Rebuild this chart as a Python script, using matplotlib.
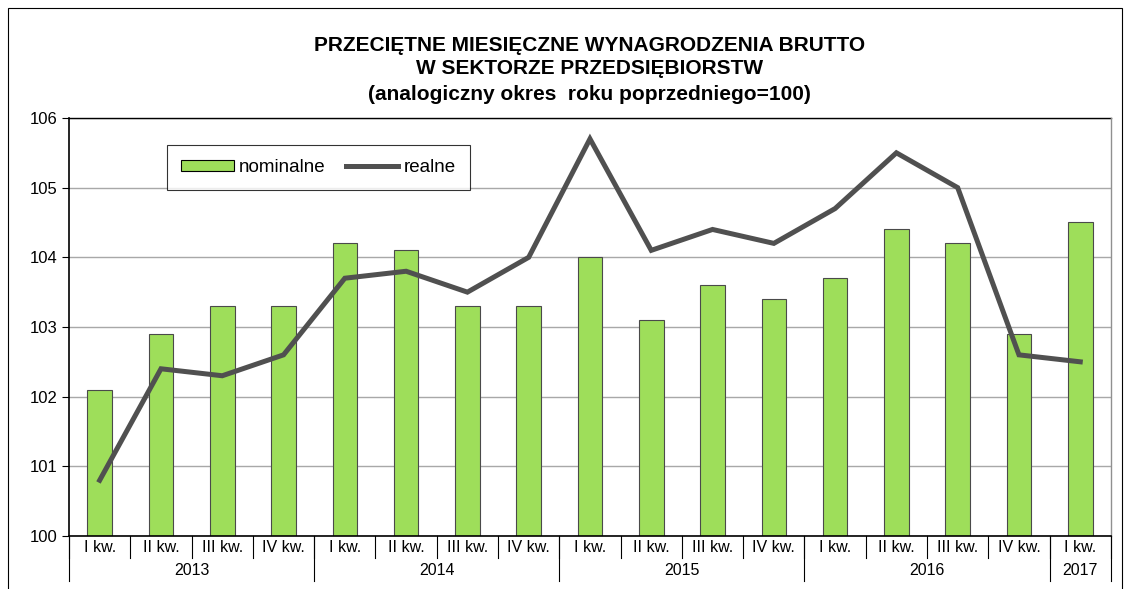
import matplotlib
matplotlib.use("Agg")
import matplotlib.pyplot as plt
import numpy as np
from matplotlib.lines import Line2D
from matplotlib.patches import Patch, Rectangle

plt.rcParams["font.family"] = ["Liberation Sans", "DejaVu Sans"]

QUARTERS = ["I kw.", "II kw.", "III kw.", "IV kw.",
            "I kw.", "II kw.", "III kw.", "IV kw.",
            "I kw.", "II kw.", "III kw.", "IV kw.",
            "I kw.", "II kw.", "III kw.", "IV kw.",
            "I kw."]
YEARS = ["2013", "2014", "2015", "2016", "2017"]
YEAR_SIZES = [4, 4, 4, 4, 1]
NOMINAL = [102.1, 102.9, 103.3, 103.3, 104.2, 104.1, 103.3, 103.3, 104.0,
           103.1, 103.6, 103.4, 103.7, 104.4, 104.2, 102.9, 104.5]
REAL = [100.8, 102.4, 102.3, 102.6, 103.7, 103.8, 103.5, 104.0, 105.7,
        104.1, 104.4, 104.2, 104.7, 105.5, 105.0, 102.6, 102.5]

GREEN = "#9ede5a"
LINE = "#505050"

fig = plt.figure(figsize=(11.3, 5.89), dpi=100)
ax = fig.add_axes([0.0611, 0.090, 0.922, 0.7097])

# obramowanie wykresu
fig.patches.append(Rectangle((0.007, -0.05), 0.986, 1.036, transform=fig.transFigure,
                             fill=False, ec="black", lw=0.8))

x = np.arange(len(NOMINAL))
ax.bar(x, np.array(NOMINAL) - 100, bottom=100, width=0.4, color=GREEN,
       edgecolor="#4a4a4a", linewidth=0.8, zorder=2)
ax.plot(x, REAL, color=LINE, lw=3.6, zorder=3, solid_joinstyle="miter")

ax.set_xlim(-0.5, len(NOMINAL) - 0.5)
ax.set_ylim(100, 106)
ax.set_yticks(range(100, 107))
ax.tick_params(axis="y", labelsize=12, length=5, direction="out")
ax.yaxis.grid(True, color="#a8a8a8", lw=1.0, zorder=0)
ax.set_xticks([])
for s in ["top", "right"]:
    ax.spines[s].set_visible(False)
ax.spines["left"].set_linewidth(1.2)
ax.spines["bottom"].set_linewidth(1.2)
ax.plot([-0.5, len(NOMINAL) - 0.5], [106, 106], color="black", lw=1.0, clip_on=False)
ax.plot([len(NOMINAL) - 0.5] * 2, [100, 106], color="#909090", lw=1.0, clip_on=False)

# dwupoziomowa oś kategorii
tr = ax.get_xaxis_transform()
for i, q in enumerate(QUARTERS):
    ax.text(i, -0.028, q, transform=tr, ha="center", va="center", fontsize=11.5)
for k in range(len(QUARTERS) + 1):
    ax.plot([k - 0.5, k - 0.5], [0, -0.053], transform=tr, color="black", lw=0.8, clip_on=False)
start = -0.5
for yr, n in zip(YEARS, YEAR_SIZES):
    ax.text(start + n / 2, -0.083, yr, transform=tr, ha="center", va="center", fontsize=11.5)
    ax.plot([start, start], [0, -0.107], transform=tr, color="black", lw=0.8, clip_on=False)
    start += n
ax.plot([start, start], [0, -0.107], transform=tr, color="black", lw=0.8, clip_on=False)

fig.text(0.522, 0.923, "PRZECIĘTNE MIESIĘCZNE WYNAGRODZENIA BRUTTO", ha="center",
         va="center", fontsize=15, fontweight="bold")
fig.text(0.522, 0.884, "W SEKTORZE PRZEDSIĘBIORSTW", ha="center",
         va="center", fontsize=15, fontweight="bold")
fig.text(0.522, 0.839, "(analogiczny okres  roku poprzedniego=100)", ha="center",
         va="center", fontsize=15, fontweight="bold")

handles = [Patch(facecolor=GREEN, edgecolor="black", lw=0.8, label="nominalne"),
           Line2D([0], [0], color=LINE, lw=3.6, label="realne")]
leg = ax.legend(handles=handles, loc="upper left", bbox_to_anchor=(0.094, 0.935), ncol=2,
                fontsize=13.5, frameon=True, fancybox=False, edgecolor="black",
                handlelength=2.8, handleheight=0.55, handletextpad=0.27, columnspacing=1.1,
                borderpad=0.75, borderaxespad=0)
leg.get_frame().set_linewidth(0.8)

fig.savefig("out.png", dpi=100)
